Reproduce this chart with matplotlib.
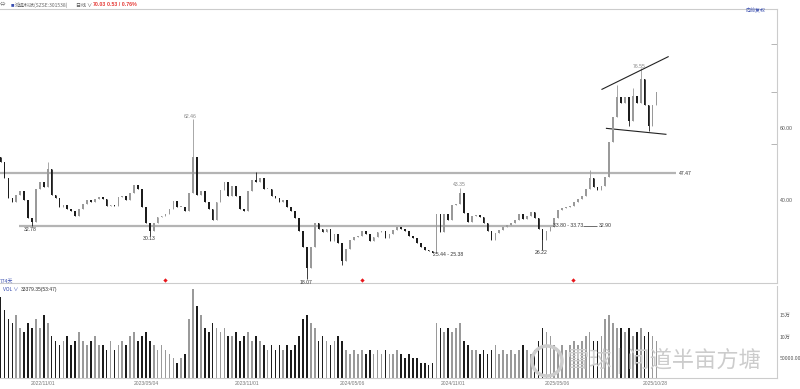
import matplotlib
matplotlib.use("Agg")
import matplotlib.pyplot as plt
import matplotlib.dates as mdates
from matplotlib.patches import Ellipse
import numpy as np
import pandas as pd

plt.rcParams['font.family'] = ['Noto Sans CJK SC', 'DejaVu Sans']

# 周线收盘价
closes = [
    50.5, 46.0, 40.5, 39.5, 41.5, 42.5, 40.0, 35.0, 34.0, 43.0,
    45.0, 43.5, 48.5, 41.5, 40.5, 38.0, 38.5, 37.5, 37.0, 35.5,
    37.5, 38.8, 40.0, 39.5, 40.2, 40.8, 40.3, 38.3, 38.5, 38.2,
    40.8, 41.0, 40.0, 42.0, 44.2, 43.0, 38.0, 33.5, 31.5, 33.6,
    35.3, 35.5, 36.0, 37.5, 39.8, 38.0, 38.0, 37.0, 42.0, 52.0,
    41.5, 42.5, 39.5, 37.5, 34.5, 39.5, 42.8, 45.0, 41.0, 44.0,
    41.0, 37.5, 37.0, 42.5, 45.5, 45.0, 46.0, 43.0, 43.0, 41.0,
    40.5, 39.5, 40.0, 38.1, 37.0, 35.0, 31.5, 27.0, 21.0, 27.0,
    33.5, 32.0, 31.0, 32.0, 28.5, 30.5, 28.0, 23.0, 26.5, 29.0,
    29.7, 30.0, 31.5, 30.5, 28.5, 29.7, 31.0, 31.5, 29.5, 30.5,
    31.7, 32.5, 32.0, 31.5, 30.0, 29.5, 28.1, 27.0, 26.1, 25.8,
    25.4, 36.0, 31.0, 36.0, 34.5, 38.5, 39.0, 42.0, 36.5, 34.0,
    35.5, 35.8, 35.3, 33.6, 31.5, 29.0, 30.8, 31.7, 32.5, 33.0,
    33.6, 34.5, 36.0, 34.8, 35.5, 36.8, 35.0, 32.0, 29.0, 31.5,
    32.5, 35.0, 37.3, 37.7, 38.0, 38.4, 39.5, 40.2, 41.0, 43.0,
    46.0, 43.5, 42.8, 44.0, 46.5, 56.0, 63.0, 68.5, 67.0, 68.5,
    62.0, 69.0, 67.0, 73.5, 66.5, 60.5, 66.5, 70.03]
first_open = 52.0

# 周均成交量 (万)
volumes = [
    19, 16, 14, 13, 15, 12, 11, 13, 12, 14,
    12, 15, 13, 10, 9, 8, 9, 10, 8, 9,
    11, 9, 8, 9, 10, 8, 8, 7, 9, 7,
    8, 9, 8, 10, 11, 9, 10, 11, 9, 8,
    7, 8, 7, 6, 5, 4, 5, 6, 14, 21,
    17, 15, 12, 11, 13, 12, 11, 12, 10, 10,
    11, 9, 10, 11, 9, 10, 9, 8, 7, 8,
    7, 8, 7, 8, 7, 8, 10, 14, 15, 13,
    12, 9, 10, 9, 8, 9, 10, 9, 7, 6,
    7, 6, 7, 6, 7, 6, 7, 6, 7, 6,
    6, 7, 6, 5, 6, 5, 5, 4, 4, 3.5,
    4, 13, 12, 11, 12, 11, 12, 13, 9, 8,
    7, 7, 6, 7, 6, 7, 8, 6, 7, 6,
    7, 6, 7, 8, 7, 6, 7, 9, 12, 11,
    10, 8, 7, 8, 7, 8, 9, 8, 9, 10,
    11, 9, 9, 10, 14, 15, 13, 12, 12, 11,
    12, 10, 11, 12, 10, 11, 10, 9]

# 标注的最高/最低点 (周序号: 价格)
peak_highs = {12: 50.5, 49: 62.46, 65: 47.8, 117: 43.35, 150: 48.2,
              157: 72.0, 161: 71.0, 163: 76.55}
trough_lows = {8: 32.78, 38: 30.13, 78: 18.07, 87: 22.0, 110: 25.38,
               138: 26.22, 160: 60.5, 165: 59.3}

event_dates = ['2023-06-08', '2024-05-24', '2025-06-04']
trend_upper = (['2025-07-25', '2025-11-20'], [70.75, 79.8])
trend_lower = (['2025-08-02', '2025-11-16'], [59.9, 58.25])
date_ticks = ['2022-11-01', '2023-05-04', '2023-11-01', '2024-05-06',
              '2024-11-01', '2025-05-06', '2025-10-28']

dates = pd.date_range('2022-08-18', periods=len(closes), freq='7D')
x = mdates.date2num(dates)
c = np.array(closes)
o = np.r_[first_open, c[:-1]]
hi = np.maximum(o, c)
lo = np.minimum(o, c)
for k, v in peak_highs.items():
    hi[k] = max(hi[k], v)
for k, v in trough_lows.items():
    lo[k] = min(lo[k], v)
up = c >= o
cols = np.where(up, '#9a9a9a', '#1c1c1c')

W, H = 800, 389
fig = plt.figure(figsize=(8, 3.89), dpi=100)
ax = fig.add_axes([0, 1 - 283 / H, 777 / W, (283 - 9) / H])
vax = fig.add_axes([0, 1 - 378 / H, 777 / W, (378 - 286) / H], sharex=ax)

def d(s):
    return mdates.date2num(pd.Timestamp(s))

xl = (d('2022-08-17'), d('2026-06-02'))

# 水平支撑/压力线
ax.hlines(47.47, xl[0], d('2025-12-04'), color='#b4b4b4', lw=1.6, zorder=1)
ax.hlines(32.90, d('2022-09-19'), d('2025-04-29'), color='#b4b4b4', lw=1.6, zorder=1)
ax.hlines(32.90, d('2025-06-21'), d('2025-07-16'), color='#333333', lw=0.5, zorder=1)

# K线
body_h = np.maximum(np.abs(c - o), 0.2)
ax.vlines(x, lo, hi, colors=cols, lw=0.6, zorder=2)
ax.bar(x, body_h, bottom=np.minimum(o, c), width=3.0, color=cols, lw=0, zorder=3)

# 趋势线
ax.plot(mdates.date2num(pd.to_datetime(trend_upper[0])), trend_upper[1], color='#222222', lw=0.8)
ax.plot(mdates.date2num(pd.to_datetime(trend_lower[0])), trend_lower[1], color='#222222', lw=0.8)

ax.plot(mdates.date2num(pd.to_datetime(event_dates)), [17.8] * 3, 'D', color='#e8161b', ms=2.2, mew=0)

ax.set_xlim(xl)
ax.set_ylim(16.94, 93.06)
ax.yaxis.tick_right()
ax.set_yticks([40, 60])
ax.set_yticklabels(['40.00', '60.00'], fontsize=3.7, color='#555555', family='Liberation Sans')
ax.set_yticks([55.56, 70, 83.33], minor=True)
ax.tick_params(axis='y', which='major', length=0, pad=2)
ax.tick_params(axis='y', which='minor', direction='in', length=4, color='#aaaaaa')
ax.tick_params(axis='x', which='both', bottom=False, labelbottom=False)
ax.spines['left'].set_visible(False)
for s in ['top', 'right', 'bottom']:
    ax.spines[s].set_color('#cccccc')
    ax.spines[s].set_linewidth(0.8)

# 成交量
vax.bar(x, volumes, width=3.0, color=cols, lw=0)
vax.set_ylim(0.45, 21.6)
vax.yaxis.tick_right()
vax.set_yticks([5, 10, 15])
vax.set_yticklabels(['50000.00', '10万', '15万'], fontsize=3.7, color='#555555')
vax.tick_params(axis='y', length=0, pad=2)
vax.set_xticks(mdates.date2num(pd.to_datetime(date_ticks)))
vax.set_xticklabels([s.replace('-', '/') for s in date_ticks], fontsize=3.6,
                    color='#777777', family='Liberation Sans')
vax.tick_params(axis='x', length=0, pad=2)
vax.spines['left'].set_visible(False)
vax.spines['top'].set_visible(False)
for s in ['right', 'bottom']:
    vax.spines[s].set_color('#cccccc')
    vax.spines[s].set_linewidth(0.8)

def t(px, py, s, **kw):
    kw.setdefault('fontsize', 3.7)
    kw.setdefault('va', 'center')
    fig.text(px / W, 1 - py / H, s, **kw)

lab = dict(color='#333333', family='Liberation Sans')
gry = dict(color='#888888', family='Liberation Sans')
t(24, 229, '32.78', **lab)
t(143, 238, '30.13', **lab)
t(184, 116, '62.46', **gry)
t(300, 282, '18.07', **lab)
t(453, 184, '43.35', **gry)
t(433, 255, '25.44 - 25.38', **lab)
t(535, 253, '26.22', **lab)
t(553, 225, '33.80 - 33.73', **lab)
t(599, 225, '32.90', **lab)
t(679, 173, '47.47', **lab)
t(633, 66, '76.55', **gry)

# 顶部信息栏
t(0, 5, '⇔', fontsize=4, color='#666666')
t(11, 5, '■', fontsize=2.5, color='#3a4fb0')
t(15, 5, '鸿远科技(SZSE:301538)', fontsize=3.6, color='#666666')
t(76, 5, '日线 ∨', fontsize=3.6, color='#555555')
t(93, 5, '70.03', fontsize=3.8, color='#e53935', weight='bold', family='Liberation Sans')
t(107, 5, '0.53 / 0.76%', fontsize=3.8, color='#e53935', weight='bold', family='Liberation Sans')
t(746, 11, '向前复权', fontsize=3.6, color='#3a4fb0')
t(0, 281, '774天', fontsize=3.6, color='#3a4fb0')
t(3, 289, 'VOL ∨', fontsize=3.6, color='#3a4fb0')
t(21, 289, '33379.35(53:47)', fontsize=3.6, color='#333333', family='Liberation Sans')

# 水印
fig.add_artist(Ellipse((547 / W, 1 - 361 / H), 30 / W, 30 / H, transform=fig.transFigure,
                       fill=False, ec='#cccccc', lw=2.5))
t(567, 361, '雪球 | 问道半亩方塘', fontsize=16, color='#cccccc')

fig.savefig('out.png', dpi=100)
